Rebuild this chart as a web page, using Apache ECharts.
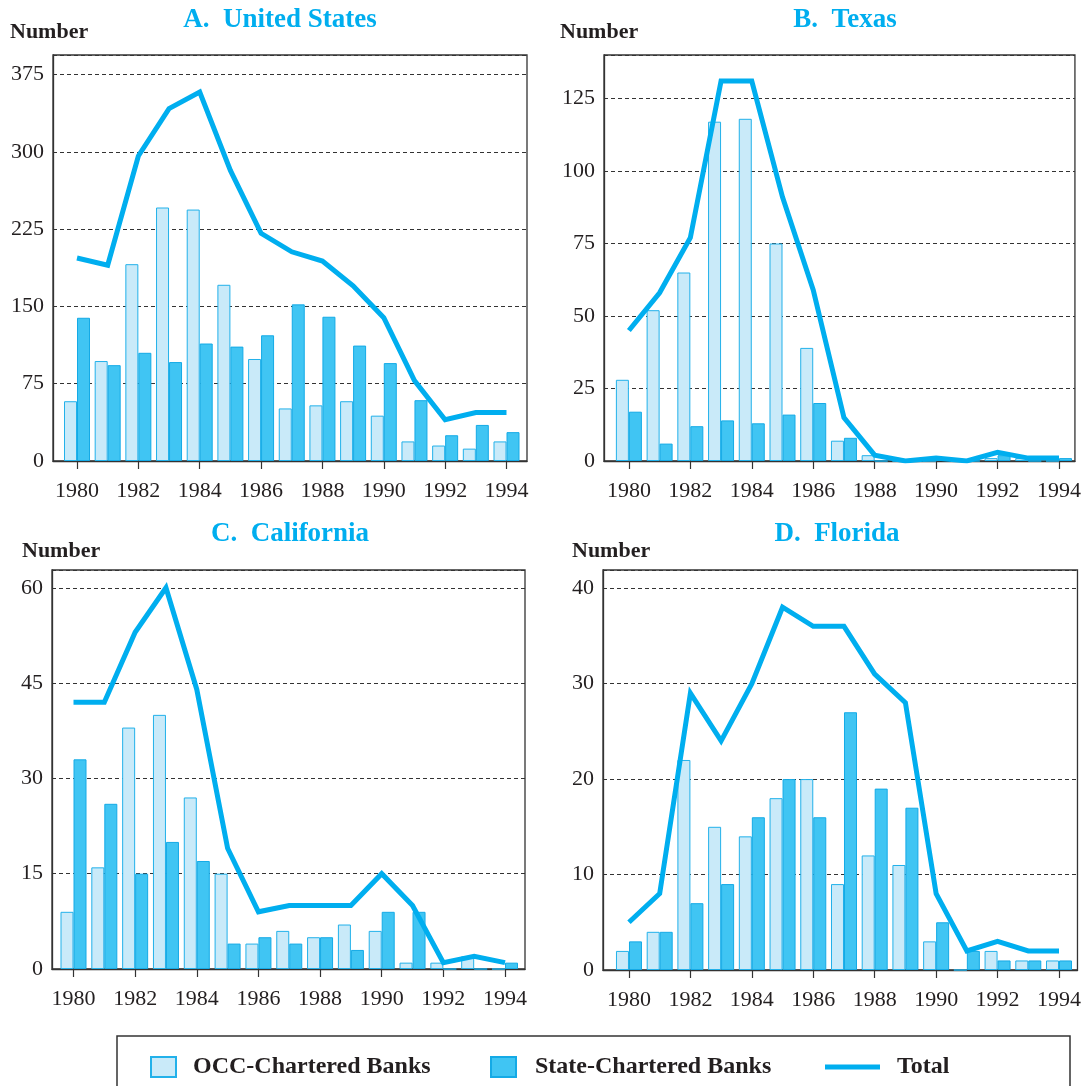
<!DOCTYPE html>
<html>
<head>
<meta charset="utf-8">
<script src="https://cdn.jsdelivr.net/npm/echarts@6/dist/echarts.min.js"></script>
<style>
html,body{margin:0;padding:0;background:#fff;}
#c{width:1084px;height:1086px;}
</style>
</head>
<body>
<div id="c"></div>
<script>
var years = [1980, 1981, 1982, 1983, 1984, 1985, 1986, 1987, 1988, 1989, 1990, 1991, 1992, 1993, 1994];
var tickYears = [1980, 1982, 1984, 1986, 1988, 1990, 1992, 1994];

var usOCC   = [58, 97, 191, 246, 244, 171, 99, 51, 54, 58, 44, 19, 15, 12, 19];
var usState = [139, 93, 105, 96, 114, 111, 122, 152, 140, 112, 95, 59, 25, 35, 28];
var usTotal = [197, 190, 296, 342, 358, 282, 221, 203, 194, 170, 139, 78, 40, 47, 47];

var txOCC   = [28, 52, 65, 117, 118, 75, 39, 7, 2, 0, 0, 0, 1, 1, 0];
var txState = [17, 6, 12, 14, 13, 16, 20, 8, 0, 0, 1, 0, 2, 0, 1];
var txTotal = [45, 58, 77, 131, 131, 91, 59, 15, 2, 0, 1, 0, 3, 1, 1];

var caOCC   = [9, 16, 38, 40, 27, 15, 4, 6, 5, 7, 6, 1, 1, 2, 0];
var caState = [33, 26, 15, 20, 17, 4, 5, 4, 5, 3, 9, 9, 0, 0, 1];
var caTotal = [42, 42, 53, 60, 44, 19, 9, 10, 10, 10, 15, 10, 1, 2, 1];

var flOCC   = [2, 4, 22, 15, 14, 18, 20, 9, 12, 11, 3, 0, 2, 1, 1];
var flState = [3, 4, 7, 9, 16, 20, 16, 27, 19, 17, 5, 2, 1, 1, 1];
var flTotal = [5, 8, 29, 24, 30, 38, 36, 36, 31, 28, 8, 2, 3, 2, 2];

var panelTitles = ['A.  United States', 'B.  Texas', 'C.  California', 'D.  Florida'];
var yTickStep = [75, 25, 15, 10];
var yMax = [394, 140, 62.8, 41.9];
var seriesNames = ['OCC-Chartered Banks', 'State-Chartered Banks', 'Total'];

var panels = [
  {occ: usOCC, state: usState, total: usTotal},
  {occ: txOCC, state: txState, total: txTotal},
  {occ: caOCC, state: caState, total: caTotal},
  {occ: flOCC, state: flState, total: flTotal}
];

var FONT = "'Liberation Serif','Times New Roman',serif";
var CYAN = '#00AEEF';
var TXT = '#231F20';
var occStyle = {color: '#C9EAF9', borderColor: '#22B1EA', borderWidth: 1};
var stateStyle = {color: '#40C5F3', borderColor: '#14AAE6', borderWidth: 1};

// plot frames (px) and pixel positions of the first/last year
var frames = [
  {left: 53, right: 527, x0: 77, x1: 506.5, top: 55, bottom: 461},
  {left: 604, right: 1077, x0: 629, x1: 1061, top: 55, bottom: 461},
  {left: 52, right: 525, x0: 73.5, x1: 505, top: 570, bottom: 969},
  {left: 603, right: 1078, x0: 629, x1: 1059.5, top: 570, bottom: 970}
];
var titlePos = [[280, 7], [845, 7], [290, 521], [837, 521]];
var numberPos = [[10, 21], [560, 21], [22, 540], [572, 540]];

function xExtent(f) {
  var ppy = (f.x1 - f.x0) / (years[years.length - 1] - years[0]);
  return [years[0] - (f.x0 - f.left) / ppy, years[years.length - 1] + (f.right - f.x1) / ppy];
}

function pairs(vals) {
  return years.map(function (y, k) { return [y, vals[k]]; });
}

var legendText = {fontFamily: FONT, fontWeight: 'bold', fontSize: 24, color: TXT};

var option = {
  animation: false,
  backgroundColor: '#fff',
  grid: frames.map(function (f) {
    return {left: f.left, top: f.top, width: f.right - f.left, height: f.bottom - f.top,
            show: true, borderColor: '#333', borderWidth: 1.3, containLabel: false};
  }),
  xAxis: frames.map(function (f, i) {
    var ext = xExtent(f);
    return {
      type: 'value', gridIndex: i, min: ext[0], max: ext[1],
      axisLine: {show: true, onZero: false, lineStyle: {color: '#333', width: 1.3}},
      axisTick: {show: true, customValues: tickYears, length: 8, lineStyle: {color: '#333', width: 1.2}},
      axisLabel: {customValues: tickYears, margin: 19, color: TXT, fontFamily: FONT, fontSize: 22,
                  formatter: function (v) { return String(v); }},
      splitLine: {show: false}
    };
  }),
  yAxis: frames.map(function (f, i) {
    return {
      type: 'value', gridIndex: i, min: 0, max: yMax[i], interval: yTickStep[i],
      axisLine: {show: true, lineStyle: {color: '#333', width: 1.3}},
      axisTick: {show: false},
      axisLabel: {showMaxLabel: false, margin: 9, color: TXT, fontFamily: FONT, fontSize: 22},
      splitLine: {show: true, lineStyle: {color: '#333', width: 1, type: [4, 3]}}
    };
  }),
  legend: [
    {data: [{name: seriesNames[0], icon: 'rect'}], left: 145, top: 1050, itemWidth: 25, itemHeight: 20,
     selectedMode: false, textStyle: Object.assign({padding: [0, 0, 0, 12]}, legendText)},
    {data: [{name: seriesNames[1], icon: 'rect'}], left: 485, top: 1050, itemWidth: 25, itemHeight: 20,
     selectedMode: false, textStyle: Object.assign({padding: [0, 0, 0, 14]}, legendText)},
    {data: [{name: seriesNames[2], icon: 'rect', itemStyle: {color: CYAN, borderWidth: 0}}], left: 820, top: 1050,
     itemWidth: 55, itemHeight: 5,
     selectedMode: false, textStyle: Object.assign({padding: [0, 0, 0, 12]}, legendText)}
  ],
  graphic: [],
  series: []
};

panels.forEach(function (p, i) {
  option.series.push({
    name: seriesNames[0], type: 'bar', xAxisIndex: i, yAxisIndex: i, data: pairs(p.occ),
    barWidth: 13, barGap: '0%', itemStyle: occStyle, z: 2
  });
  option.series.push({
    name: seriesNames[1], type: 'bar', xAxisIndex: i, yAxisIndex: i, data: pairs(p.state),
    barWidth: 13, barGap: '0%', itemStyle: stateStyle, z: 2
  });
  option.series.push({
    name: seriesNames[2], type: 'line', xAxisIndex: i, yAxisIndex: i, data: pairs(p.total),
    symbol: 'none', showSymbol: false, z: 5,
    itemStyle: {color: CYAN},
    lineStyle: {color: CYAN, width: 5, join: 'miter', cap: 'butt'}
  });
  option.graphic.push({
    type: 'text', x: titlePos[i][0], y: titlePos[i][1],
    style: {text: panelTitles[i], fill: CYAN, font: 'bold 27px ' + FONT, textAlign: 'center', textVerticalAlign: 'top'}
  });
  option.graphic.push({
    type: 'text', x: numberPos[i][0], y: numberPos[i][1],
    style: {text: 'Number', fill: TXT, font: 'bold 22px ' + FONT, textAlign: 'left', textVerticalAlign: 'top'}
  });
});

option.graphic.push({
  type: 'rect', x: 117, y: 1036, z: -1,
  shape: {width: 953, height: 60},
  style: {fill: 'none', stroke: '#333', lineWidth: 1.5}
});

var chart = echarts.init(document.getElementById('c'), null, {renderer: 'canvas'});
chart.setOption(option);
</script>
</body>
</html>
